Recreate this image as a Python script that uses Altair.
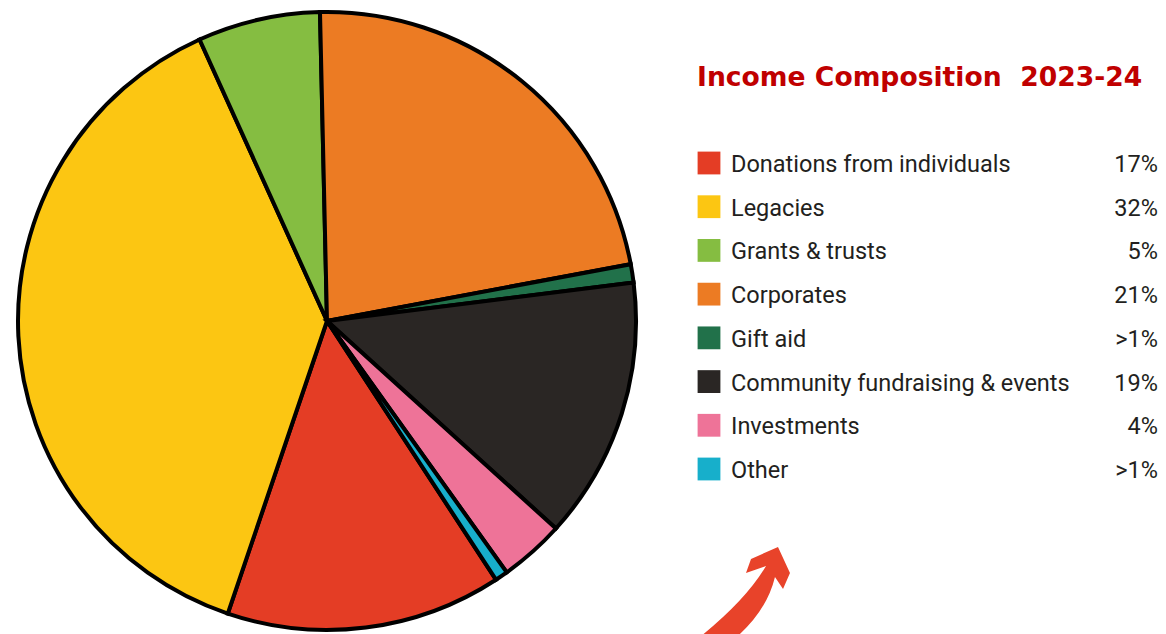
import math
import altair as alt
import pandas as pd

# Legend order
categories = ["Donations from individuals", "Legacies", "Grants & trusts", "Corporates",
              "Gift aid", "Community fundraising & events", "Investments", "Other"]
# Share of the pie
pie_values = [14.4, 38.0, 6.4, 22.4, 0.95, 13.7, 3.4, 0.67]
# Percent labels as printed in the legend
legend_pct = ["17%", "32%", "5%", "21%", ">1%", "19%", "4%", ">1%"]
# Clockwise order of slices starting near 12 o'clock
pie_order = [6, 7, 8, 1, 2, 3, 4, 5]
colors = ["#E43D25", "#FCC612", "#85BD41", "#EC7B23", "#21714A", "#2A2624", "#EE7398", "#17AFCB"]

title_text = "Income Composition\u00a0 2023-24"

df = pd.DataFrame({"label": categories, "value": pie_values, "pct": legend_pct, "ord": pie_order})

start = -1.3 * math.pi / 180
color_scale = alt.Scale(domain=categories, range=colors)
y_scale = alt.Scale(type="point", domain=categories, range=[155, 461], padding=0)

base = alt.Chart(df)

pie = base.mark_arc(radius=309, stroke="#000000", strokeWidth=4).encode(
    theta=alt.Theta("value:Q", stack=True, scale=alt.Scale(range=[start, start + 2 * math.pi])),
    color=alt.Color("label:N", scale=color_scale, legend=None),
    order=alt.Order("ord:Q"),
    x=alt.value(319),
    y=alt.value(313),
)

swatch = base.mark_square(size=520, opacity=1).encode(
    x=alt.value(701),
    y=alt.Y("label:N", scale=y_scale, axis=None),
    color=alt.Color("label:N", scale=color_scale, legend=None),
)

names = base.mark_text(align="left", baseline="middle", font="Roboto", fontSize=23.5,
                       color="#231F20", dy=2).encode(
    x=alt.value(723),
    y=alt.Y("label:N", scale=y_scale, axis=None),
    text="label:N",
)

pcts = base.mark_text(align="right", baseline="middle", font="Roboto", fontSize=23.5,
                      color="#231F20", dy=2).encode(
    x=alt.value(1150),
    y=alt.Y("label:N", scale=y_scale, axis=None),
    text="pct:N",
)

title = alt.Chart(pd.DataFrame({"t": [title_text]})).mark_text(
    align="left", baseline="middle", font="DejaVu Sans", fontWeight="bold", fontSize=26.6,
    color="#C00000"
).encode(x=alt.value(689), y=alt.value(70), text="t:N")

arrow_path = ("M0.702,-0.915 L0.957,-0.362 L0.809,-0.021 L0.638,-0.277 "
              "Q0.45,0.5 -0.298,1.1 L-1.085,1.1 Q0.0,0.25 0.447,-0.511 "
              "L0.021,-0.362 L0.128,-0.660 Z")
arrow = alt.Chart(pd.DataFrame({"a": [1]})).mark_point(
    shape=arrow_path, filled=True, size=8836, color="#E8432A", opacity=1, strokeWidth=0
).encode(x=alt.value(737), y=alt.value(582))

chart = alt.layer(pie, swatch, names, pcts, title, arrow).properties(
    width=1150, height=626, padding=0, background="white",
    autosize=alt.AutoSizeParams(type="none")
).configure_view(stroke=None, strokeWidth=0)

chart.save("out.html", embed_options={"renderer": "svg", "actions": False})
